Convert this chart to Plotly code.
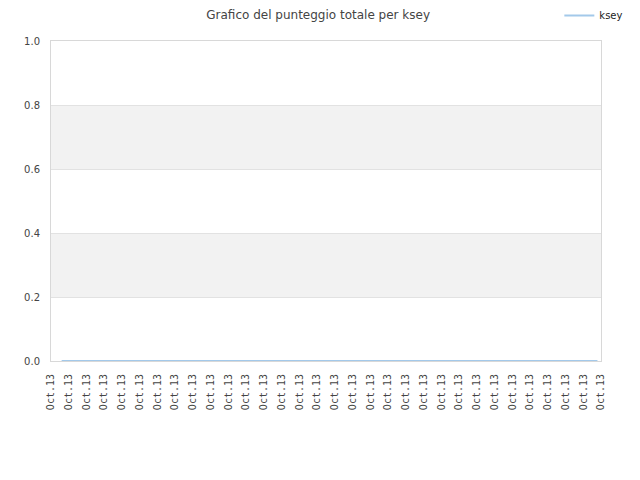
import plotly.graph_objects as go

# dati
etichette_x = ["Oct.13"] * 32
posizioni_tick = list(range(32))
y_tick = [0.0, 0.2, 0.4, 0.6, 0.8, 1.0]
partite_x = [0.6, 30.8]
punteggio_ksey = [0, 0]
bande = [(0.2, 0.4), (0.6, 0.8)]

fig = go.Figure()
fig.add_trace(go.Scatter(x=partite_x, y=punteggio_ksey, mode='lines', name='ksey',
                         line=dict(color='#a3c9ea', width=2)))

for y0, y1 in bande:
  fig.add_shape(type='rect', xref='paper', yref='y', x0=0, x1=1, y0=y0, y1=y1,
                fillcolor='#f2f2f2', line_width=0, layer='below')

# la pagina aggiunge ~7px di bordo, quindi figura un po' piu' piccola
fig.update_layout(
  width=633, height=473,
  title=dict(text='Grafico del punteggio totale per ksey', x=0.49, xanchor='center', y=0.994, yanchor='top',
             font=dict(family='DejaVu Sans', size=12, color='#444444')),
  font=dict(family='DejaVu Sans', size=10, color='#333333'),
  paper_bgcolor='white', plot_bgcolor='white',
  margin=dict(l=43, r=40, t=33, b=120, autoexpand=False),
  showlegend=True,
  legend=dict(xref='container', yref='paper', x=0.98, y=1.125, xanchor='right', yanchor='top',
              font=dict(family='DejaVu Sans', size=10, color='#222222'), itemwidth=30,
              bgcolor='rgba(0,0,0,0)'),
  xaxis=dict(range=[0, 31], tickvals=posizioni_tick, ticktext=etichette_x, tickangle=-90,
             tickfont=dict(family='DejaVu Sans Mono', size=10, color='#444444'), ticklabelstandoff=8,
             showgrid=False, zeroline=False, showline=True, linecolor='#d8d8d8', mirror=True,
             ticks='', fixedrange=True, automargin=False),
  yaxis=dict(range=[0, 1], tickvals=y_tick, tickformat='.1f', showgrid=True, gridcolor='#e2e2e2',
             tickfont=dict(color='#444444'), ticklabelstandoff=8,
             zeroline=False, showline=True, linecolor='#d8d8d8', mirror=True, ticks='', automargin=False),
)

fig.write_html("out.html")
